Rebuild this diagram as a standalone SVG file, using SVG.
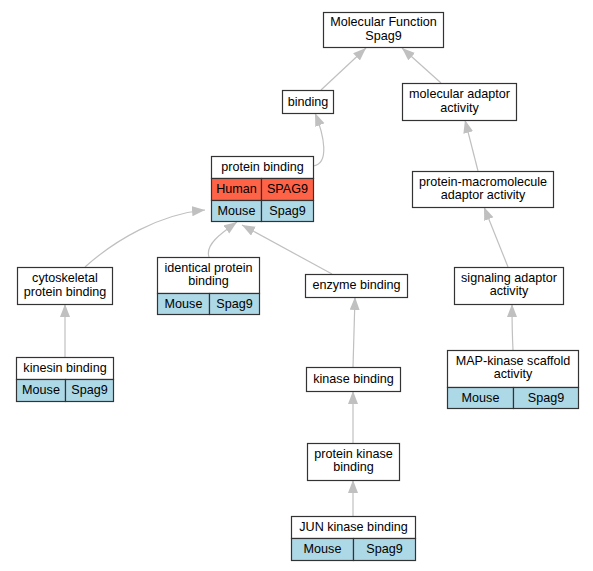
<svg xmlns="http://www.w3.org/2000/svg" width="593" height="571" viewBox="0 0 593 571">
<style>
text{font-family:"Liberation Sans",Arial,sans-serif;font-size:12.6px;text-anchor:middle;fill:#000}
.b{fill:#fff;stroke:#333;stroke-width:1.2}
.h{fill:#ff6347;stroke:#333;stroke-width:1.2}
.m{fill:#add8e6;stroke:#333;stroke-width:1.2}
.e{fill:none;stroke:#c0c0c0;stroke-width:1.2;marker-end:url(#a)}
</style>
<defs>
<marker id="a" markerUnits="userSpaceOnUse" markerWidth="14" markerHeight="11" refX="13" refY="5" orient="auto">
<path d="M0,0 L13,5 L0,10 z" fill="#c0c0c0"/>
</marker>
</defs>
<rect width="593" height="571" fill="#fff"/>
<g id="edges">
<path class="e" d="M321,90 L366,48"/>
<path class="e" d="M441,83 L402,48"/>
<path class="e" d="M313,166 C330,164 324,135 315,113"/>
<path class="e" d="M85,267 C115,240 160,214 205,210"/>
<path class="e" d="M209,257 C205,245 220,234 237,222"/>
<path class="e" d="M332,274 L242,225"/>
<path class="e" d="M65,357 L65,304"/>
<path class="e" d="M353,367 L355,297"/>
<path class="e" d="M353,443 L353,391"/>
<path class="e" d="M353,516 L353,480"/>
<path class="e" d="M513,350 C512,330 512,320 512,304"/>
<path class="e" d="M508,267 L484,207"/>
<path class="e" d="M478,171 L465,120"/>
</g>
<g id="mf">
<rect class="b" x="323.5" y="12.5" width="120" height="35"/>
<text x="383.5" y="26">Molecular Function</text>
<text x="383.5" y="40">Spag9</text>
</g>
<g id="binding">
<rect class="b" x="282.5" y="90.5" width="51" height="23"/>
<text x="308" y="106">binding</text>
</g>
<g id="protein_binding">
<rect class="b" x="211.5" y="156.5" width="102" height="22"/>
<text x="262.5" y="171">protein binding</text>
<rect class="h" x="211.5" y="178.5" width="50" height="22"/>
<rect class="h" x="261.5" y="178.5" width="52" height="22"/>
<text x="236.5" y="193">Human</text>
<text x="287.5" y="193">SPAG9</text>
<rect class="m" x="211.5" y="200.5" width="50" height="21"/>
<rect class="m" x="261.5" y="200.5" width="52" height="21"/>
<text x="236.5" y="215">Mouse</text>
<text x="287.5" y="215">Spag9</text>
</g>
<g id="mol_adaptor">
<rect class="b" x="402.5" y="83.5" width="114" height="37"/>
<text x="459.5" y="98">molecular adaptor</text>
<text x="459.5" y="112">activity</text>
</g>
<g id="prot_macro">
<rect class="b" x="412.5" y="171.5" width="141" height="36"/>
<text x="483" y="186">protein-macromolecule</text>
<text x="483" y="199">adaptor activity</text>
</g>
<g id="signaling">
<rect class="b" x="454.5" y="267.5" width="109" height="37"/>
<text x="509" y="282">signaling adaptor</text>
<text x="509" y="295">activity</text>
</g>
<g id="map_kinase">
<rect class="b" x="447.5" y="350.5" width="131" height="37"/>
<text x="513" y="365">MAP-kinase scaffold</text>
<text x="513" y="378">activity</text>
<rect class="m" x="447.5" y="387.5" width="66" height="21"/>
<rect class="m" x="513.5" y="387.5" width="65" height="21"/>
<text x="480.5" y="402">Mouse</text>
<text x="546" y="402">Spag9</text>
</g>
<g id="enzyme">
<rect class="b" x="305.5" y="274.5" width="102" height="23"/>
<text x="356.5" y="289">enzyme binding</text>
</g>
<g id="kinase">
<rect class="b" x="306.5" y="367.5" width="94" height="24"/>
<text x="353.5" y="383">kinase binding</text>
</g>
<g id="prot_kinase">
<rect class="b" x="307.5" y="443.5" width="92" height="37"/>
<text x="353.5" y="458">protein kinase</text>
<text x="353.5" y="471">binding</text>
</g>
<g id="jun">
<rect class="b" x="291.5" y="516.5" width="124" height="22"/>
<text x="353.5" y="531">JUN kinase binding</text>
<rect class="m" x="291.5" y="538.5" width="62" height="22"/>
<rect class="m" x="353.5" y="538.5" width="62" height="22"/>
<text x="322.5" y="553">Mouse</text>
<text x="384.5" y="553">Spag9</text>
</g>
<g id="cytoskeletal">
<rect class="b" x="17.5" y="267.5" width="95" height="37"/>
<text x="65" y="282">cytoskeletal</text>
<text x="65" y="296">protein binding</text>
</g>
<g id="identical">
<rect class="b" x="157.5" y="257.5" width="102" height="36"/>
<text x="208.5" y="272">identical protein</text>
<text x="208.5" y="285">binding</text>
<rect class="m" x="157.5" y="293.5" width="52" height="21"/>
<rect class="m" x="209.5" y="293.5" width="50" height="21"/>
<text x="183.5" y="308">Mouse</text>
<text x="234.5" y="308">Spag9</text>
</g>
<g id="kinesin">
<rect class="b" x="16.5" y="357.5" width="97" height="22"/>
<text x="65" y="372">kinesin binding</text>
<rect class="m" x="16.5" y="379.5" width="49" height="22"/>
<rect class="m" x="65.5" y="379.5" width="48" height="22"/>
<text x="41" y="394">Mouse</text>
<text x="89.5" y="394">Spag9</text>
</g>
</svg>
